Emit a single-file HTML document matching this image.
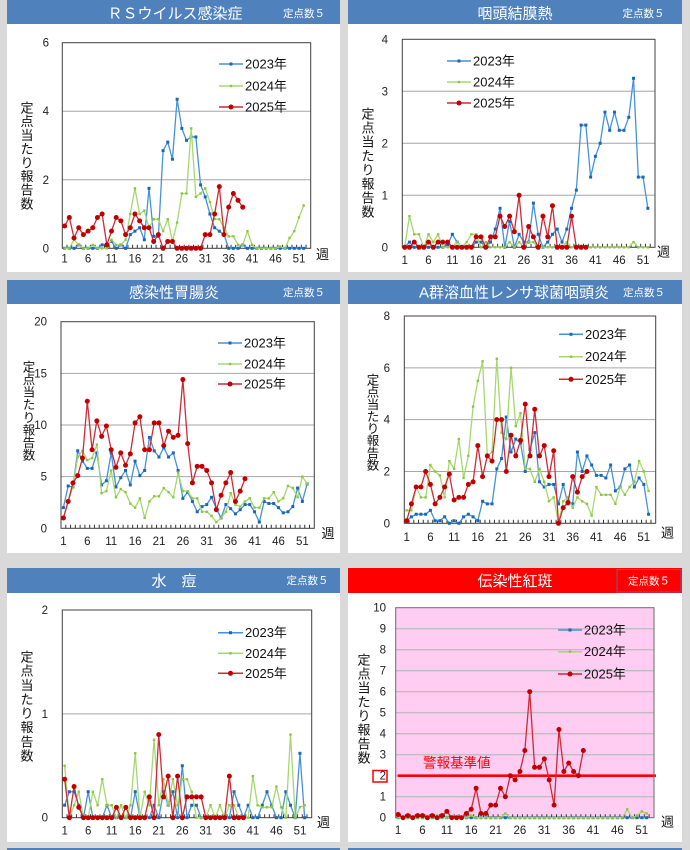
<!DOCTYPE html>
<html><head><meta charset="utf-8">
<style>
html,body{margin:0;padding:0;background:#d9d9d9;}
svg{display:block;}
text{font-family:"Liberation Sans","Noto Sans CJK JP",sans-serif;}
.t{fill:#fff;font-size:15px;text-anchor:middle;}
.s{fill:#fff;font-size:10.5px;text-anchor:middle;}
.yl{font-size:11.5px;text-anchor:end;fill:#222;}
.xl{font-size:11.5px;text-anchor:middle;fill:#222;}
.lg{font-size:13px;fill:#111;}
.ya{font-size:13px;text-anchor:middle;fill:#111;}
.wk{font-size:13px;fill:#111;}
</style></head>
<body>
<svg id="c" width="690" height="850" viewBox="0 0 690 850" xmlns="http://www.w3.org/2000/svg">
<rect x="0" y="0" width="690" height="850" fill="#d9d9d9"/>
<!-- panels -->
<rect x="7" y="0" width="333" height="272" fill="#fff"/>
<rect x="348" y="0" width="334" height="272" fill="#fff"/>
<rect x="7" y="280" width="333" height="273" fill="#fff"/>
<rect x="348" y="280" width="334" height="273" fill="#fff"/>
<rect x="7" y="568" width="333" height="274" fill="#fff"/>
<rect x="348" y="568" width="334" height="274" fill="#fff"/>
<!-- headers -->
<rect x="7" y="0" width="333" height="24" fill="#4f81bd"/>
<rect x="348" y="0" width="334" height="24" fill="#4f81bd"/>
<rect x="7" y="280" width="333" height="24" fill="#4f81bd"/>
<rect x="348" y="280" width="334" height="24" fill="#4f81bd"/>
<rect x="7" y="568" width="333" height="25" fill="#4f81bd"/>
<rect x="348" y="568" width="334" height="25" fill="#ff0000"/>
<rect x="617" y="569.5" width="64" height="22.5" fill="none" stroke="#7a5a8a" stroke-width="1"/>
<rect x="7" y="848" width="333" height="2" fill="#4f81bd"/>
<rect x="348" y="848" width="334" height="2" fill="#4f81bd"/>

<text class="t" x="175" y="18.5">ＲＳウイルス感染症</text>
<text class="s" x="304" y="17">定点数５</text>
<text class="t" x="515" y="18.5">咽頭結膜熱</text>
<text class="s" x="643.5" y="17">定点数５</text>
<text class="t" x="174" y="297.5">感染性胃腸炎</text>
<text class="s" x="304" y="296">定点数５</text>
<text class="t" x="514" y="297.5">A群溶血性レンサ球菌咽頭炎</text>
<text class="s" x="644" y="296">定点数５</text>
<text class="t" x="174" y="586">水　痘</text>
<text class="s" x="307.5" y="584">定点数５</text>
<text class="t" x="515" y="586">伝染性紅斑</text>
<text class="s" x="649" y="584.5">定点数５</text>

<g id="plots"></g>

<!-- P1 labels -->
<text class="yl" x="49" y="252.3">0</text><text class="yl" x="49" y="183.8">2</text><text class="yl" x="49" y="115.2">4</text><text class="yl" x="49" y="46.7">6</text>
<text class="xl" x="64.6" y="262.5">1</text><text class="xl" x="88.1" y="262.5">6</text><text class="xl" x="111.5" y="262.5">11</text><text class="xl" x="134.9" y="262.5">16</text><text class="xl" x="158.4" y="262.5">21</text><text class="xl" x="181.8" y="262.5">26</text><text class="xl" x="205.2" y="262.5">31</text><text class="xl" x="228.7" y="262.5">36</text><text class="xl" x="252.1" y="262.5">41</text><text class="xl" x="275.5" y="262.5">46</text><text class="xl" x="299" y="262.5">51</text>
<text class="wk" x="316" y="259">週</text>
<text class="ya"><tspan x="27" y="112.5">定</tspan><tspan x="27" y="126.2">点</tspan><tspan x="27" y="139.9">当</tspan><tspan x="27" y="153.6">た</tspan><tspan x="27" y="167.3">り</tspan><tspan x="27" y="181">報</tspan><tspan x="27" y="194.7">告</tspan><tspan x="27" y="208.4">数</tspan></text>
<text class="lg" x="245" y="68.5">2023年</text><text class="lg" x="245" y="90.5">2024年</text><text class="lg" x="245" y="111.5">2025年</text>

<!-- P2 labels -->
<text class="yl" x="388" y="251.3">0</text><text class="yl" x="388" y="199.3">1</text><text class="yl" x="388" y="147.3">2</text><text class="yl" x="388" y="95.3">3</text><text class="yl" x="388" y="43.3">4</text>
<text class="xl" x="404.7" y="263.8">1</text><text class="xl" x="428.5" y="263.8">6</text><text class="xl" x="452.4" y="263.8">11</text><text class="xl" x="476.2" y="263.8">16</text><text class="xl" x="500.1" y="263.8">21</text><text class="xl" x="523.9" y="263.8">26</text><text class="xl" x="547.8" y="263.8">31</text><text class="xl" x="571.6" y="263.8">36</text><text class="xl" x="595.4" y="263.8">41</text><text class="xl" x="619.3" y="263.8">46</text><text class="xl" x="643.1" y="263.8">51</text>
<text class="wk" x="657" y="256.5">週</text>
<text class="ya"><tspan x="368" y="118.5">定</tspan><tspan x="368" y="132.5">点</tspan><tspan x="368" y="146.5">当</tspan><tspan x="368" y="160.5">た</tspan><tspan x="368" y="174.5">り</tspan><tspan x="368" y="188.5">報</tspan><tspan x="368" y="202.5">告</tspan><tspan x="368" y="216.5">数</tspan></text>
<text class="lg" x="473" y="65.5">2023年</text><text class="lg" x="473" y="86.5">2024年</text><text class="lg" x="473" y="107.5">2025年</text>

<!-- P3 labels -->
<text class="yl" x="47" y="532.3">0</text><text class="yl" x="47" y="480.7">5</text><text class="yl" x="47" y="429">10</text><text class="yl" x="47" y="377.4">15</text><text class="yl" x="47" y="325.7">20</text>
<text class="xl" x="63.4" y="545.2">1</text><text class="xl" x="87.3" y="545.2">6</text><text class="xl" x="111.2" y="545.2">11</text><text class="xl" x="135.1" y="545.2">16</text><text class="xl" x="159" y="545.2">21</text><text class="xl" x="182.9" y="545.2">26</text><text class="xl" x="206.8" y="545.2">31</text><text class="xl" x="230.7" y="545.2">36</text><text class="xl" x="254.6" y="545.2">41</text><text class="xl" x="278.5" y="545.2">46</text><text class="xl" x="302.4" y="545.2">51</text>
<text class="wk" x="321.5" y="538">週</text>
<text class="ya" style="font-size:12.5px"><tspan x="29" y="371.5">定</tspan><tspan x="29" y="384.1">点</tspan><tspan x="29" y="396.6">当</tspan><tspan x="29" y="409.2">た</tspan><tspan x="29" y="421.8">り</tspan><tspan x="29" y="434.4">報</tspan><tspan x="29" y="446.9">告</tspan><tspan x="29" y="459.5">数</tspan></text>
<text class="lg" x="244" y="347.5">2023年</text><text class="lg" x="244" y="368.5">2024年</text><text class="lg" x="244" y="388.5">2025年</text>

<!-- P4 labels -->
<text class="yl" x="390" y="527.3">0</text><text class="yl" x="390" y="475.5">2</text><text class="yl" x="390" y="423.7">4</text><text class="yl" x="390" y="371.8">6</text><text class="yl" x="390" y="320">8</text>
<text class="xl" x="406.7" y="541.2">1</text><text class="xl" x="430.4" y="541.2">6</text><text class="xl" x="454.1" y="541.2">11</text><text class="xl" x="477.8" y="541.2">16</text><text class="xl" x="501.5" y="541.2">21</text><text class="xl" x="525.3" y="541.2">26</text><text class="xl" x="549" y="541.2">31</text><text class="xl" x="572.7" y="541.2">36</text><text class="xl" x="596.4" y="541.2">41</text><text class="xl" x="620.1" y="541.2">46</text><text class="xl" x="643.8" y="541.2">51</text>
<text class="wk" x="661" y="537.5">週</text>
<text class="ya" style="font-size:12.5px"><tspan x="373" y="384.5">定</tspan><tspan x="373" y="396.6">点</tspan><tspan x="373" y="408.8">当</tspan><tspan x="373" y="420.9">た</tspan><tspan x="373" y="433.1">り</tspan><tspan x="373" y="445.2">報</tspan><tspan x="373" y="457.4">告</tspan><tspan x="373" y="469.5">数</tspan></text>
<text class="lg" x="585" y="338.8">2023年</text><text class="lg" x="585" y="361.2">2024年</text><text class="lg" x="585" y="383.8">2025年</text>

<!-- P5 labels -->
<text class="yl" x="48" y="821.7">0</text><text class="yl" x="48" y="717.9">1</text><text class="yl" x="48" y="614">2</text>
<text class="xl" x="64.7" y="834.5">1</text><text class="xl" x="88.2" y="834.5">6</text><text class="xl" x="111.7" y="834.5">11</text><text class="xl" x="135.2" y="834.5">16</text><text class="xl" x="158.8" y="834.5">21</text><text class="xl" x="182.3" y="834.5">26</text><text class="xl" x="205.8" y="834.5">31</text><text class="xl" x="229.4" y="834.5">36</text><text class="xl" x="252.9" y="834.5">41</text><text class="xl" x="276.4" y="834.5">46</text><text class="xl" x="300" y="834.5">51</text>
<text class="wk" x="317" y="827">週</text>
<text class="ya"><tspan x="27" y="661.5">定</tspan><tspan x="27" y="675.6">点</tspan><tspan x="27" y="689.8">当</tspan><tspan x="27" y="703.9">た</tspan><tspan x="27" y="718.1">り</tspan><tspan x="27" y="732.2">報</tspan><tspan x="27" y="746.3">告</tspan><tspan x="27" y="760.5">数</tspan></text>
<text class="lg" x="245" y="637.2">2023年</text><text class="lg" x="245" y="657.8">2024年</text><text class="lg" x="245" y="677.8">2025年</text>

<!-- P6 labels -->
<text class="yl" x="386" y="821.7">0</text><text class="yl" x="386" y="800.7">1</text><text class="yl" x="386" y="779.7">2</text><text class="yl" x="386" y="758.7">3</text><text class="yl" x="386" y="737.7">4</text><text class="yl" x="386" y="716.7">5</text><text class="yl" x="386" y="695.7">6</text><text class="yl" x="386" y="674.7">7</text><text class="yl" x="386" y="653.7">8</text><text class="yl" x="386" y="632.7">9</text><text class="yl" x="386" y="611.7">10</text>
<rect x="373" y="770.5" width="14" height="11.5" fill="none" stroke="#ff0000" stroke-width="1.5"/>
<text class="xl" x="398.1" y="833.8">1</text><text class="xl" x="422.5" y="833.8">6</text><text class="xl" x="446.9" y="833.8">11</text><text class="xl" x="471.2" y="833.8">16</text><text class="xl" x="495.6" y="833.8">21</text><text class="xl" x="519.9" y="833.8">26</text><text class="xl" x="544.3" y="833.8">31</text><text class="xl" x="568.7" y="833.8">36</text><text class="xl" x="593" y="833.8">41</text><text class="xl" x="617.4" y="833.8">46</text><text class="xl" x="641.8" y="833.8">51</text>
<text class="wk" x="661" y="826.5">週</text>
<text class="ya"><tspan x="364" y="664.5">定</tspan><tspan x="364" y="678.5">点</tspan><tspan x="364" y="692.5">当</tspan><tspan x="364" y="706.5">た</tspan><tspan x="364" y="720.5">り</tspan><tspan x="364" y="734.5">報</tspan><tspan x="364" y="748.5">告</tspan><tspan x="364" y="762.5">数</tspan></text>
<text class="lg" x="584" y="634.5">2023年</text><text class="lg" x="584" y="656.2">2024年</text><text class="lg" x="584" y="678.5">2025年</text>
<text x="423" y="767.5" style="font-size:13.5px;fill:#ff0000;">警報基準値</text>
</svg>
<script>
(function(){
var NS="http://www.w3.org/2000/svg";
var root=document.getElementById("plots");
function el(n,a,p){var e=document.createElementNS(NS,n);for(var k in a)e.setAttribute(k,a[k]);(p||root).appendChild(e);return e;}
function z(n){var a=[];for(var i=0;i<n;i++)a.push(0);return a;}
var g6=z(52);g6[8]=0.1;g6[15]=0.1;g6[22]=0.2;g6[47]=0.4;g6[49]=0.1;g6[50]=0.3;g6[51]=0.2;
var P=[
{L:62.3,R:310.7,T:42.7,B:248.3,max:6,grid:[2,4],leg:[219,243,64,86,107],
 d:[[0,0,0,0.1,0,0,0,0,0.1,0.1,0.2,0,0.1,0,0.4,0.5,0.6,0.25,1.75,0.35,0.35,2.85,3.1,2.6,4.35,3.5,3.15,3.25,3.25,1.85,1.5,1.0,0.6,0.5,0.4,0,0,0,0.1,0,0,0,0,0,0,0,0,0,0,0,0,0],
    [0,0,0.25,0.1,0,0,0.1,0,0,0,0.25,0.1,0.1,0.25,1.0,1.75,1.0,1.1,0.6,0.85,0.85,0.5,0.85,0.2,0.75,1.6,1.6,3.5,1.5,1.6,1.75,1.35,0.85,0.85,0.6,0.35,0.35,0.1,0.1,0.5,0.1,0,0,0,0,0,0.05,0,0.3,0.5,0.9,1.25],
    [0.65,0.9,0.3,0.6,0.4,0.5,0.6,0.9,1.0,0.1,0.5,0.9,0.8,0.4,0.6,1.0,0.8,0.6,0.6,0.2,0.4,0,0.2,0.2,0,0,0,0,0,0,0.4,0.4,1.0,1.8,0.4,1.2,1.6,1.4,1.2]]},
{L:402.3,R:655,T:39.3,B:247.3,max:4,grid:[1,2,3],leg:[447,471,61,82,103],
 d:[[0,0.1,0,0,0,0,0,0,0,0.05,0.25,0.1,0,0,0,0.1,0.1,0,0.1,0.35,0.75,0,0.5,0,0.25,0.1,0.1,0.85,0.25,0,0.1,0.25,0.35,0.1,0.35,0.75,1.1,2.35,2.35,1.35,1.75,2.0,2.6,2.25,2.6,2.25,2.25,2.5,3.25,1.35,1.35,0.75],
    [0,0.6,0.25,0.25,0,0.25,0.1,0.25,0,0,0,0.1,0,0.1,0.25,0.25,0,0.1,0,0,0,0,0.1,0,0.1,0,0.1,0.1,0,0,0,0,0,0,0.1,0,0,0,0,0,0,0,0,0,0,0,0,0,0.1,0,0,0],
    [0,0,0.1,0,0,0.1,0,0.1,0.1,0.1,0,0,0,0,0,0.2,0.2,0,0.2,0.2,0.6,0.4,0.6,0.3,1.0,0,0.4,0.2,0,0.6,0.2,0.8,0,0,0,0.6,0,0,0]]},
{L:61,R:314.3,T:321.7,B:528.3,max:20,grid:[5,10,15],leg:[218,242,343,364,384],
 d:[[2.0,4.1,4.0,7.5,6.5,5.8,5.8,7.3,4.2,4.6,7.3,4.0,4.9,5.6,4.2,6.5,5.1,5.6,8.8,7.5,6.9,7.8,6.9,7.3,5.6,2.9,3.5,2.6,1.6,2.1,2.3,3.0,1.9,1.0,2.3,1.9,1.4,1.8,2.3,2.3,1.6,0.6,2.6,2.4,2.4,2.0,1.5,1.6,2.1,3.9,2.6,4.3],
    [1.0,2.6,4.0,6.9,7.5,6.6,6.8,8.1,3.4,3.6,5.6,3.0,3.8,3.5,2.4,2.0,2.9,1.0,2.6,3.1,3.1,3.9,3.5,3.0,5.4,3.6,3.6,2.9,2.9,1.6,1.6,1.2,0.6,1.0,1.6,3.4,2.3,2.1,2.6,2.9,2.0,2.0,2.9,2.9,3.5,2.6,2.9,4.1,3.9,3.0,5.0,4.3],
    [1.0,2.6,4.4,5.1,6.8,12.3,7.6,10.4,8.9,9.9,7.6,5.9,7.3,6.1,7.2,10.2,10.8,7.6,7.6,10.2,10.2,8.0,9.4,8.8,9.0,14.4,8.2,4.4,6.0,6.0,5.6,4.4,1.8,3.2,4.4,5.4,2.6,3.6,4.8]]},
{L:404.3,R:655.7,T:316,B:523.3,max:8,grid:[2,4,6],leg:[559,583,334.3,356.7,379.3],
 d:[[0.1,0.25,0.35,0.35,0.35,0.5,0.1,0.1,0.25,0,0.1,0,0.25,0.35,0.25,0.1,0.85,0.75,0.75,2.1,2.5,4.1,2.75,3.25,3.1,2.0,2.85,3.5,1.6,1.4,1.5,1.5,0.75,1.5,0.75,0.75,2.75,2.0,2.6,2.25,1.85,1.85,1.75,2.25,1.25,1.4,2.1,2.25,1.4,1.75,1.5,0.35],
    [0.5,0.5,1.4,1.0,1.0,2.25,2.0,1.85,1.0,2.4,2.1,3.25,1.75,2.6,4.5,5.5,6.25,2.6,2.75,6.35,3.5,3.25,6.0,3.75,4.25,2.1,2.1,1.6,2.1,1.6,0.85,1.0,0,0.85,1.0,0.6,1.0,0.85,0.75,0.3,1.4,1.1,1.1,1.1,0.75,1.4,1.1,1.4,1.6,2.4,2.0,1.25],
    [0.1,0.75,1.4,1.4,2.0,1.5,0.75,1.0,1.4,1.9,0.9,1.0,1.0,1.5,1.6,3.0,1.8,2.6,2.4,4.0,4.0,2.0,3.4,2.6,3.2,4.6,2.6,4.4,2.6,3.0,1.8,2.8,0,0.6,0.8,1.8,1.2,1.8,2.0]]},
{L:62.3,R:311.7,T:610,B:817.7,max:2,grid:[1],leg:[218,243,632.7,653.3,673.3],
 d:[[0.12,0.25,0.25,0.12,0,0.25,0,0,0,0.12,0,0,0,0,0,0.25,0,0,0,0.12,0,0.25,0.12,0.25,0,0.5,0,0.12,0.12,0,0,0,0,0,0,0,0.25,0.12,0,0.12,0,0,0.12,0.25,0.12,0,0,0.25,0.12,0,0.62,0],
    [0.5,0,0.12,0.25,0,0,0.25,0.12,0.37,0.12,0.12,0,0.12,0,0.12,0.62,0,0.25,0.12,0.75,0.12,0.37,0.12,0.37,0.12,0.37,0.37,0.25,0,0,0,0.12,0,0.12,0,0.12,0.12,0,0,0,0.4,0.12,0.1,0.1,0.1,0.3,0.1,0,0.8,0,0.1,0.12],
    [0.37,0,0.3,0.1,0,0,0,0,0,0,0,0.1,0,0.1,0,0,0,0,0.2,0,0.8,0.2,0.4,0,0.4,0,0.2,0.2,0.2,0.2,0,0,0,0,0,0.4,0,0,0]]},
{L:395.7,R:654,T:607.7,B:817.7,max:10,grid:[1,2,3,4,5,6,7,8,9],leg:[558,582,630,651.7,674],pink:true,alarm:2,
 d:[z(52),g6,
    [0.15,0,0.1,0,0.1,0.1,0,0.1,0,0.1,0.3,0,0,0,0.2,0.4,1.4,0.2,0.2,0.6,0.6,1.4,1.0,2.0,1.8,2.2,3.2,6.0,2.4,2.4,2.8,1.8,0.6,4.2,2.2,2.6,2.2,2.0,3.2]]}
];
var ST=[{line:"#4592dc",mk:"#1a66b8",t:"sq",s:3},{line:"#a6d86f",mk:"#8cc63f",t:"sq",s:2.4},{line:"#cf2a36",mk:"#c00000",t:"c",s:2.5}];
function marker(x,y,st,g){
  if(st.t=="c")el("circle",{cx:x,cy:y,r:st.s,fill:st.mk},g);
  else el("rect",{x:x-st.s/2,y:y-st.s/2,width:st.s,height:st.s,fill:st.mk},g);
}
P.forEach(function(p){
  var g=el("g",{});
  var W=p.R-p.L,H=p.B-p.T,w=W/53;
  el("rect",{x:p.L,y:p.T,width:W,height:H,fill:p.pink?"#ffccf2":"#fff"},g);
  p.grid.forEach(function(v){var y=p.B-v/p.max*H;el("line",{x1:p.L,x2:p.R,y1:y,y2:y,stroke:p.pink?"#c0bcc0":"#a6a6a6","stroke-width":p.pink?1.3:1},g);});
  var bd="";for(var i=1;i<53;i++){var x=p.L+i*w;bd+="M"+x.toFixed(2)+","+p.B+"v-3.5";}
  el("path",{d:bd,stroke:"#333","stroke-width":1,fill:"none"},g);
  if(p.alarm){var ya=p.B-p.alarm/p.max*H;el("line",{x1:p.L+2,x2:p.R+2,y1:ya,y2:ya,stroke:"#ff0000","stroke-width":2.6},g);}
  el("rect",{x:p.L,y:p.T,width:W,height:H,fill:"none",stroke:p.pink?"#6a6a6a":"#404040","stroke-width":1},g);
  p.d.forEach(function(arr,si){
    var st=ST[si];var pts=[];
    arr.forEach(function(v,i){pts.push((p.L+(i+0.5)*w).toFixed(2)+","+(p.B-v/p.max*H).toFixed(2));});
    el("polyline",{points:pts.join(" "),fill:"none",stroke:st.line,"stroke-width":1.3,"stroke-linejoin":"round"},g);
    arr.forEach(function(v,i){marker(p.L+(i+0.5)*w,p.B-v/p.max*H,st,g);});
  });
  for(var k=0;k<3;k++){
    var st=ST[k],y=p.leg[2+k];
    el("line",{x1:p.leg[0],x2:p.leg[1],y1:y,y2:y,stroke:st.line,"stroke-width":1.5},g);
    marker((p.leg[0]+p.leg[1])/2,y,st,g);
  }
});
})();
</script>
</body></html>
